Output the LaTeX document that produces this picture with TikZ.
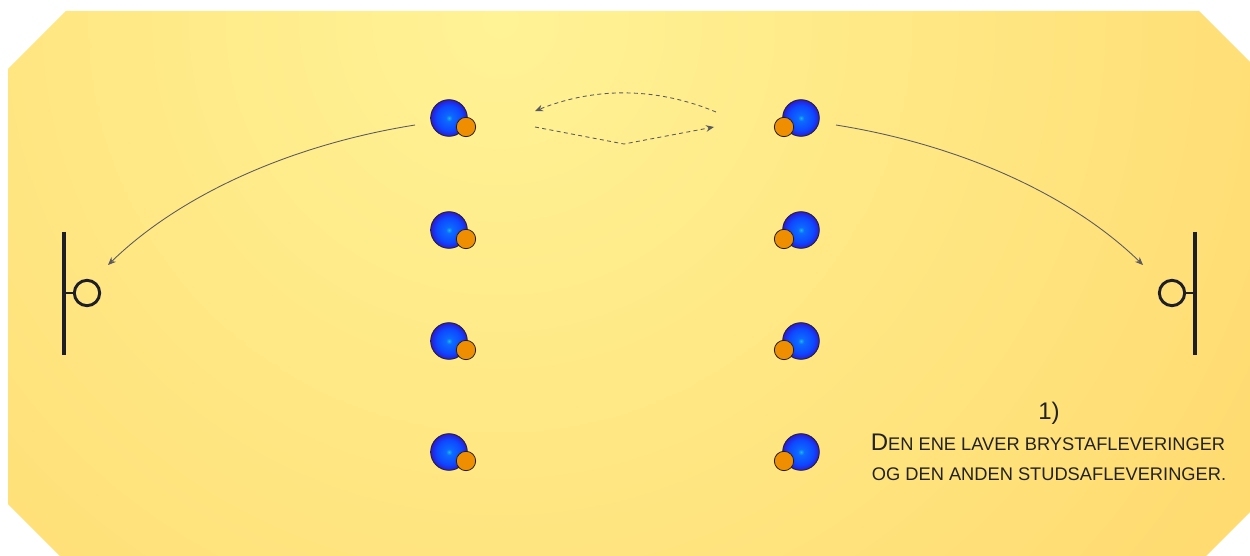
\documentclass[tikz,border=0pt]{standalone}
\usepackage{fontspec}
\setmainfont{Liberation Sans}
\usetikzlibrary{arrows.meta}

\definecolor{fieldlight}{RGB}{255,243,150}
\definecolor{fielddark}{RGB}{255,198,80}
\definecolor{kitorange}{RGB}{238,142,0}
\definecolor{outline}{RGB}{30,30,40}
\definecolor{passgray}{RGB}{90,90,95}
\definecolor{textdark}{RGB}{34,34,34}

% shaded ball for the players
\pgfdeclareradialshading{playerball}{\pgfpoint{0bp}{0bp}}{%
  color(0bp)=(rgb,1:red,0.10;green,0.72;blue,0.85);
  color(4bp)=(rgb,1:red,0.05;green,0.42;blue,1.00);
  color(17bp)=(rgb,1:red,0.05;green,0.28;blue,1.00);
  color(25bp)=(rgb,1:red,0.18;green,0.10;blue,0.82);
  color(50bp)=(rgb,1:red,0.18;green,0.10;blue,0.82)}

% fake small caps: large initial, reduced capitals
\newcommand\capinitial[1]{{\fontsize{18pt}{20pt}\selectfont #1}}
\newcommand\capsmall[1]{{\fontsize{13.7pt}{16pt}\selectfont #1}}

\tikzset{
  playerbody/.style={circle, minimum size=27.5pt, inner sep=0pt, draw=outline,
    line width=0.6pt, shading=playerball},
  playerbib/.style={circle, minimum size=14.5pt, inner sep=0pt, draw=outline,
    line width=0.6pt, fill=kitorange},
  goalpost/.style={draw=outline, line width=2.4pt},
  goalring/.style={circle, minimum size=19pt, inner sep=0pt, draw=outline, line width=2.2pt},
  pass/.style={draw=passgray, line width=0.65pt, -{Stealth[length=6pt,width=5pt]}},
  dashpass/.style={pass, dashed, dash pattern=on 3pt off 2.5pt},
  caption/.style={text=textdark, inner sep=0pt, anchor=base}
}

\begin{document}
\begin{tikzpicture}[x=0.75pt,y=-0.75pt]
\useasboundingbox (0,0) rectangle (1250,556);

% pitch
\begin{scope}
  \clip (66,11) -- (1199,11) -- (1262,74) -- (1262,500) -- (1203,559)
        -- (63,559) -- (8,504) -- (8,69) -- cycle;
  \shade[inner color=fieldlight, outer color=fielddark] (500,20) circle (1650);
\end{scope}

% players, left column (bib on the right) and right column (bib on the left)
\foreach \r/\yy in {1/118, 2/230, 3/341, 4/452} {
  \node[playerbody] (L\r) at (449,\yy) {};
  \node[playerbib]  (Lb\r) at (466,\yy+9) {};
  \node[playerbody] (R\r) at (801,\yy) {};
  \node[playerbib]  (Rb\r) at (784,\yy+9) {};
}

% goals
\draw[goalpost] (64,232) coordinate (gLtop) -- (64,355) coordinate (gLbot);
\node[goalring] (gL) at (87,293) {};
\draw[goalpost, line width=2.2pt] (64,293) -- (gL.west);

\draw[goalpost] (1195,232) coordinate (gRtop) -- (1195,355) coordinate (gRbot);
\node[goalring] (gR) at (1172,293) {};
\draw[goalpost, line width=2.2pt] (1195,293) -- (gR.east);

% long passes towards the goals
\coordinate (sL) at (415,125);
\coordinate (eL) at (108,265);
\coordinate (sR) at (836,125);
\coordinate (eR) at (1143,265);
\draw[pass] (sL) .. controls (290,145) and (180,195) .. (eL);
\draw[pass] (sR) .. controls (961,145) and (1071,195) .. (eR);

% passes between the two front players
\coordinate (tA) at (716,112);
\coordinate (tB) at (535,111);
\coordinate (bA) at (535,127);
\coordinate (bM) at (624,144);
\coordinate (bB) at (714,127);
\draw[dashpass] (tA) .. controls (656,87) and (595,87) .. (tB);
\draw[dashpass] (bA) -- (bM) -- (bB);

% caption
\node[caption] (num) at (1049,419) {\fontsize{18pt}{20pt}\selectfont 1)};
\node[caption] (line1) at (1048,450) {\capinitial{D}\capsmall{EN ENE LAVER BRYSTAFLEVERINGER}};
\node[caption] (line2) at (1049,480) {\capsmall{OG DEN ANDEN STUDSAFLEVERINGER.}};
\end{tikzpicture}
\end{document}
